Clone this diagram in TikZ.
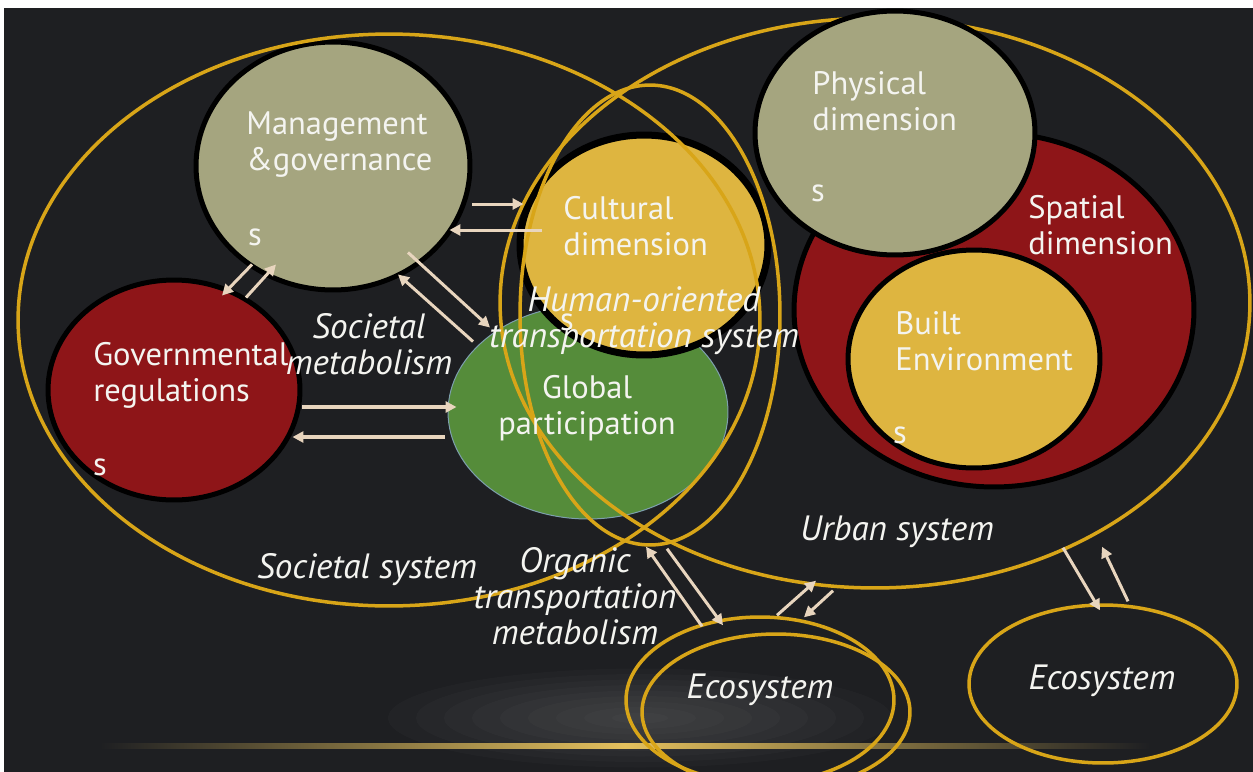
\documentclass[tikz,border=0pt]{standalone}
\usepackage{fontspec}
\setmainfont{PT Sans}
\usetikzlibrary{shapes.geometric,arrows.meta}
\definecolor{bg}{HTML}{1E1F22}
\definecolor{olivec}{HTML}{A5A57F}
\definecolor{redc}{HTML}{8E1518}
\definecolor{goldc}{HTML}{DEB540}
\definecolor{greenc}{HTML}{558C3A}
\definecolor{ringc}{HTML}{D8A518}
\definecolor{arrowc}{HTML}{E8D5BE}
\definecolor{txtc}{HTML}{F4F4F0}
\tikzstyle{blob}=[ellipse, draw=black, line width=0.1cm, inner sep=0pt]
\tikzstyle{ring}=[ellipse, draw=ringc, line width=0.07cm, inner sep=0pt]
\tikzstyle{lbl}=[text=txtc, font=\fontsize{18.5}{20.5}\selectfont, inner sep=0pt]
\tikzstyle{ilbl}=[lbl, font=\fontsize{20}{20.5}\selectfont\itshape]
\tikzstyle{flow}=[-{Triangle[length=0.22cm,width=0.22cm]}, draw=arrowc, line width=0.06cm]

\begin{document}
\begin{tikzpicture}[x=0.02cm, y=-0.02cm]
\clip (0,0) rectangle (1253,771);
\fill[white] (0,0) rectangle (1253,771);
\fill[bg] (4,8) rectangle (1260,780);

% floor glow
\foreach \r in {1,...,9}
  \fill[white, opacity=0.018] (640,718) ellipse ({28*\r} and {5.5*\r});
\shade[left color=bg, right color=bg, middle color=ringc!70!white] (100,743) rectangle (1150,748);

% societal side
\node[blob, fill=greenc, draw=cyan!30!gray, line width=0.02cm, minimum width=5.60cm, minimum height=4.28cm] (glob) at (588,412) {};
\node[blob, fill=goldc, line width=0.14cm, minimum width=4.96cm, minimum height=4.40cm] (cult) at (644,245) {};
\node[blob, fill=olivec, minimum width=5.48cm, minimum height=4.96cm] (mgmt) at (333,166) {};
\node[blob, fill=redc, minimum width=5.04cm, minimum height=4.40cm] (gov) at (174,390) {};

% systems
\node[ring, minimum width=15.00cm, minimum height=11.40cm] (urban) at (875,303) {};
\node[ring, minimum width=14.84cm, minimum height=11.44cm] (soc) at (389,320) {};
\node[ring, minimum width=5.20cm, minimum height=9.20cm] (trans) at (650,315) {};

% urban side
\node[blob, fill=redc, minimum width=8.00cm, minimum height=7.08cm] (spat) at (994,310) {};
\node[blob, fill=goldc, minimum width=5.04cm, minimum height=4.36cm] (built) at (974,359) {};
\node[blob, fill=olivec, minimum width=5.60cm, minimum height=4.88cm] (phys) at (895,133) {};

% ecosystems
\node[ring, minimum width=5.36cm, minimum height=3.32cm] (ecoA) at (760,700) {};
\node[ring, minimum width=5.36cm, minimum height=3.12cm] (ecoB) at (776,712) {};
\node[ring, minimum width=5.36cm, minimum height=3.16cm] (ecoR) at (1103,684) {};

\draw[flow] ([shift={(0,38)}]mgmt.east) -- ([shift={(7,-41)}]cult.west);
\draw[flow] ([shift={(25,-15)}]cult.west) -- ([shift={(-23,64)}]mgmt.east);
\draw[flow] ([shift={(-81,-28)}]mgmt.south) -- ([shift={(48,18)}]gov.north);
\draw[flow] ([shift={(72,20)}]gov.north) -- ([shift={(-57,-28)}]mgmt.south);
\draw[flow] ([shift={(75,-40)}]mgmt.south) -- ([shift={(-98,23)}]glob.north);
\draw[flow] ([shift={(-115,37)}]glob.north) -- ([shift={(65,-18)}]mgmt.south);
\draw[flow, line width=0.09cm] ([shift={(0,17)}]gov.east) -- ([shift={(9,-5)}]glob.west);
\draw[flow, line width=0.09cm] ([shift={(-3,25)}]glob.west) -- ([shift={(-10,47)}]gov.east);
\draw[flow] ([shift={(-58,11)}]ecoA.north) -- ([shift={(-4,0)}]trans.south);
\draw[flow] ([shift={(17,2)}]trans.south) -- ([shift={(-37,10)}]ecoA.north);
\draw[flow] ([shift={(17,0)}]ecoA.north) -- ([shift={(-59,-9)}]urban.south);
\draw[flow] ([shift={(-42,1)}]urban.south) -- ([shift={(44,2)}]ecoA.north);
\draw[flow] ([shift={(188,-42)}]urban.south) -- ([shift={(-3,7)}]ecoR.north);
\draw[flow] ([shift={(25,-2)}]ecoR.north) -- ([shift={(227,-43)}]urban.south);

% labels
\node[lbl, anchor=west, align=left] (mgmtt) at (246,145) {Management\\\&governance};
\node[lbl] (mgmts) at (255,237) {s};
\node[lbl, anchor=west, align=left] (govt) at (93,375) {Governmental\\regulations};
\node[lbl] (govs) at (100,467) {s};
\node[lbl, align=center] (globt) at (587,408) {Global\\participation};
\node[lbl, anchor=west, align=left] (cultt) at (563,226) {Cultural\\dimension};
\node[lbl] (cults) at (567,322) {s};
\node[lbl, anchor=west, align=left] (physt) at (812,101) {Physical\\dimension};
\node[lbl] (physs) at (818,193) {s};
\node[lbl, anchor=west, align=left] (spatt) at (1028,225) {Spatial\\dimension};
\node[lbl, anchor=west, align=left] (builtt) at (895,341) {Built\\Environment};
\node[lbl] (builts) at (900,435) {s};

\node[ilbl, align=center] (socmet) at (369,344) {Societal\\metabolism};
\node[ilbl, align=center] (transt) at (644,321) {Human-oriented\\transportation system};
\node[ilbl] (soct) at (367,570) {Societal system};
\node[ilbl, align=center] (orgt) at (575,596) {Organic\\transportation\\metabolism};
\node[ilbl] (urbant) at (897,532) {Urban system};
\node[ilbl] (ecoAt) at (760,690) {Ecosystem};
\node[ilbl] (ecoRt) at (1102,681) {Ecosystem};
\end{tikzpicture}
\end{document}
